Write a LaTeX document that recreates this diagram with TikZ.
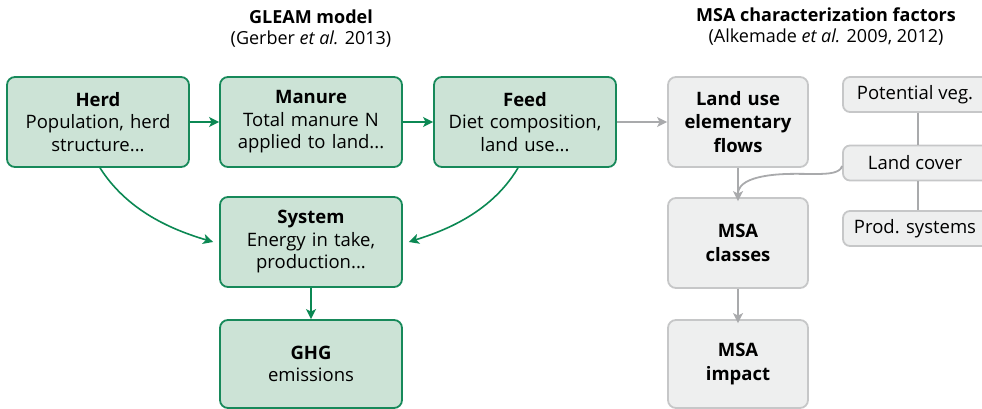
\documentclass[tikz,border=0pt]{standalone}
\usepackage{fontspec}
\setmainfont{Open Sans}
\usetikzlibrary{arrows.meta}
\definecolor{gfill}{HTML}{CCE3D6}
\definecolor{gdraw}{HTML}{17895A}
\definecolor{garrow}{HTML}{0B8853}
\definecolor{sfill}{HTML}{EEEFEF}
\definecolor{sdraw}{HTML}{C6C7C8}
\definecolor{sarrow}{HTML}{A9AAAC}
\tikzset{
  gbox/.style={draw=gdraw, fill=gfill, line width=1.8pt, rounded corners=8pt,
    minimum width=182pt, minimum height=90pt, text width=178pt, align=center,
    inner sep=0pt, font=\fontsize{18.5}{22.5}\selectfont},
  sbox/.style={draw=sdraw, fill=sfill, line width=1.8pt, rounded corners=8pt,
    minimum width=140pt, minimum height=90pt, text width=136pt, align=center,
    inner sep=0pt, font=\fontsize{18.5}{23.5}\selectfont},
  smallbox/.style={draw=sdraw, fill=sfill, line width=1.8pt, rounded corners=7pt,
    minimum width=152pt, minimum height=35pt, inner sep=0pt,
    font=\fontsize{18.5}{20}\selectfont},
  garr/.style={draw=garrow, line width=2.2pt, -{Stealth[length=10pt,width=10pt,inset=2.5pt]}},
  gcurve/.style={draw=garrow, line width=1.6pt, -{Stealth[length=10pt,width=10pt,inset=2.5pt]}},
  sarr/.style={draw=sarrow, line width=2.2pt, -{Stealth[length=10pt,width=10pt,inset=2.5pt]}},
  sline/.style={draw=sarrow, line width=2.2pt},
  title/.style={align=center, font=\fontsize{18}{21}\selectfont},
}
\begin{document}
\begin{tikzpicture}[x=1pt,y=-1pt]
\useasboundingbox (0,0) rectangle (982,409);
\clip (0,0) rectangle (982,409);
% titles
\node[title] (t1) at (311,29) {\textbf{GLEAM model}\\(Gerber \textit{et al.} 2013)};
\node[title] (t2) at (826,27) {\textbf{MSA characterization factors}\\(Alkemade \textit{et al.} 2009, 2012)};
% green boxes
\node[gbox] (herd) at (98,122) {\textbf{Herd}\\Population, herd\\structure...};
\node[gbox] (manure) at (311,122) {\textbf{Manure}\\Total manure N\\applied to land...};
\node[gbox] (feed) at (525,122) {\textbf{Feed}\\Diet composition,\\land use...};
\node[gbox] (system) at (311,242) {\textbf{System}\\Energy in take,\\production...};
\node[gbox, minimum height=88pt] (ghg) at (311,364) {\textbf{GHG}\\emissions};
% grey boxes
\node[sbox] (lu) at (738,122) {\textbf{Land use}\\\textbf{elementary}\\\textbf{flows}};
\node[sbox] (cls) at (738,243) {\textbf{MSA}\\\textbf{classes}};
\node[sbox, minimum height=88pt] (imp) at (738,364) {\textbf{MSA}\\\textbf{impact}};
% small boxes (cut at right edge)
\node[smallbox] (pv) at (919,94.5) {\hspace*{-8pt}Potential veg.};
\node[smallbox] (lc) at (919,163) {\hspace*{-8pt}Land cover};
\node[smallbox] (ps) at (919,228.5) {\hspace*{-8pt}Prod. systems};
% vertical connector between small boxes
\draw[sline] (pv.south -| 918,0) -- (lc.north -| 918,0);
\draw[sline] (lc.south -| 918,0) -- (ps.north -| 918,0);
% green arrows
\draw[garr] (herd) -- (manure);
\draw[garr] (manure) -- (feed);
\draw[garr] (system) -- (ghg);
\draw[gcurve] ([xshift=2pt]herd.south) .. controls (130,215) and (180,232) .. ([xshift=-6pt]system.west);
\draw[gcurve] ([xshift=-7pt]feed.south) .. controls (490,215) and (440,232) .. ([xshift=6pt]system.east);
% grey arrows
\draw[sarr] (feed) -- (lu);
\draw[sarr] (lu) -- ([yshift=-4pt]cls.north);
\draw[sarr] (cls) -- ([yshift=-4pt]imp.north);
\draw[sarrow, line width=1.8pt] ([yshift=-3pt]lc.west) .. controls (838,180) and (800,170) .. (765,176)
  .. controls (748,179) and (740,184) .. (738,192);
\end{tikzpicture}
\end{document}
